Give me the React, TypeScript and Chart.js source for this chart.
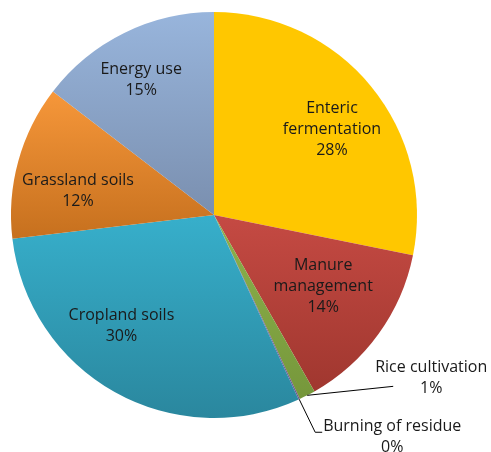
import React, { useEffect, useRef } from "react";
import { Chart, registerables } from "chart.js";

Chart.register(...registerables);

// ---- data ----
const categories: string[][] = [
  ["Enteric", "fermentation"],
  ["Manure", "management"],
  ["Rice cultivation"],
  ["Burning of residue"],
  ["Cropland soils"],
  ["Grassland soils"],
  ["Energy use"],
];
const shares: number[] = [28.2, 13.6, 1.3, 0.1, 30.0, 12.3, 14.6];

// ---- styles ----
const topColors = ["#FFC700", "#C54A43", "#8DB24C", "#8064A2", "#37AFCB", "#F6973A", "#98B5DC"];
const bottomColors = ["#FFC700", "#A0372F", "#76973B", "#6D5390", "#2A879E", "#C6701E", "#7A8FAF"];
// inside labels: nudge from point at 0.7R on mid-angle
const insideNudge: ([number, number] | null)[] = [
  [8, 4],
  [-6, -12],
  null,
  null,
  [-23, -13],
  [1, 14],
  [-10, -8],
];
// outside labels: text centre offset from edge point, leader polyline offsets
const outsideCfg: Record<number, { text: [number, number]; path: [number, number][] }> = {
  2: { text: [124, -17], path: [[86, -9]] },
  3: { text: [93, 38], path: [[16, 33], [23, 33]] },
};

const FONT = '16px "Open Sans", sans-serif';
const LINE_H = 21;

function sliceYRange(cx: number, cy: number, r: number, a0: number, a1: number) {
  let ymin = cy, ymax = cy;
  const n = 40;
  for (let i = 0; i <= n; i++) {
    const a = a0 + ((a1 - a0) * i) / n;
    const y = cy + r * Math.sin(a);
    if (y < ymin) ymin = y;
    if (y > ymax) ymax = y;
  }
  return [ymin, ymax];
}

export default function App() {
  const ref = useRef<HTMLCanvasElement | null>(null);

  useEffect(() => {
    document.body.style.margin = "0";
    const canvas = ref.current!;
    const total = shares.reduce((a, b) => a + b, 0);

    const bg = (ctx: any) => {
      const chart = ctx.chart;
      const i = ctx.dataIndex;
      const area = chart.chartArea;
      if (!area || i === undefined) return topColors[i ?? 0];
      const cx = (area.left + area.right) / 2;
      const cy = (area.top + area.bottom) / 2;
      const r = Math.min(area.right - area.left, area.bottom - area.top) / 2;
      let cum = 0;
      for (let k = 0; k < i; k++) cum += shares[k];
      const a0 = -Math.PI / 2 + (cum / total) * 2 * Math.PI;
      const a1 = a0 + (shares[i] / total) * 2 * Math.PI;
      const [y0, y1] = sliceYRange(cx, cy, r, a0, a1);
      const g = chart.ctx.createLinearGradient(0, y0, 0, y1 + 0.01);
      g.addColorStop(0, topColors[i]);
      g.addColorStop(1, bottomColors[i]);
      return g;
    };

    const labelPlugin = {
      id: "sliceLabels",
      afterDatasetsDraw(chart: any) {
        const c = chart.ctx as CanvasRenderingContext2D;
        const meta = chart.getDatasetMeta(0);
        c.save();
        c.font = FONT;
        c.fillStyle = "#1a1a1a";
        c.textAlign = "center";
        c.textBaseline = "middle";
        meta.data.forEach((arc: any, i: number) => {
          const mid = (arc.startAngle + arc.endAngle) / 2;
          const pct = Math.round((shares[i] / total) * 100) + "%";
          const lines = [...categories[i], pct];
          let tx: number, ty: number;
          const nudge = insideNudge[i];
          if (nudge) {
            const rr = arc.outerRadius * 0.7;
            tx = arc.x + rr * Math.cos(mid) + nudge[0];
            ty = arc.y + rr * Math.sin(mid) + nudge[1];
          } else {
            const cfg = outsideCfg[i];
            const ex = arc.x + arc.outerRadius * Math.cos(mid);
            const ey = arc.y + arc.outerRadius * Math.sin(mid);
            c.save();
            c.strokeStyle = "#000";
            c.lineWidth = 1;
            c.beginPath();
            c.moveTo(ex, ey);
            cfg.path.forEach((p) => c.lineTo(ex + p[0], ey + p[1]));
            c.stroke();
            c.restore();
            tx = ex + cfg.text[0];
            ty = ey + cfg.text[1];
          }
          const startY = ty - ((lines.length - 1) * LINE_H) / 2;
          lines.forEach((ln, k) => c.fillText(ln, tx, startY + k * LINE_H));
        });
        c.restore();
      },
    };

    const chart = new Chart(canvas, {
      type: "pie",
      data: {
        labels: categories.map((l) => l.join(" ")),
        datasets: [
          {
            data: shares,
            backgroundColor: bg,
            borderWidth: 0,
          },
        ],
      },
      options: {
        responsive: false,
        animation: false,
        layout: { padding: { left: 11, right: 74, top: 12, bottom: 34 } },
        plugins: {
          legend: { display: false },
          tooltip: { enabled: false },
        },
      },
      plugins: [labelPlugin],
    });
    return () => chart.destroy();
  }, []);

  return <canvas ref={ref} width={491} height={452} style={{ display: "block" }} />;
}
